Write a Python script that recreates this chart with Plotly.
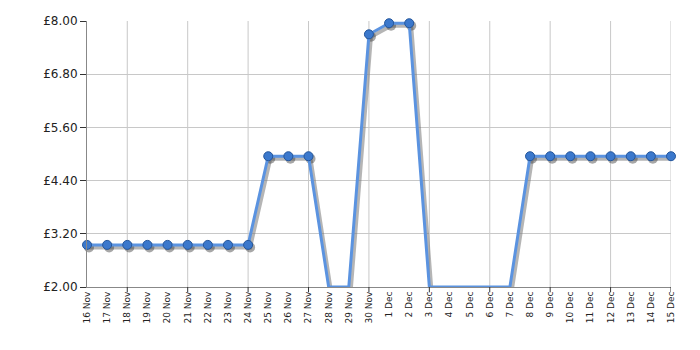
import plotly.graph_objects as go

dates = ["16 Nov","17 Nov","18 Nov","19 Nov","20 Nov","21 Nov","22 Nov","23 Nov","24 Nov",
         "25 Nov","26 Nov","27 Nov","28 Nov","29 Nov","30 Nov","1 Dec","2 Dec","3 Dec",
         "4 Dec","5 Dec","6 Dec","7 Dec","8 Dec","9 Dec","10 Dec","11 Dec","12 Dec",
         "13 Dec","14 Dec","15 Dec"]
prices = [2.95,2.95,2.95,2.95,2.95,2.95,2.95,2.95,2.95,
          4.95,4.95,4.95,None,None,7.70,7.95,7.95,None,
          None,None,None,None,4.95,4.95,4.95,4.95,4.95,
          4.95,4.95,4.95]
y_ticks = [2.00, 3.20, 4.40, 5.60, 6.80, 8.00]
y_min, y_max = 2.00, 8.00

xs = list(range(len(dates)))
ys = [p if p is not None else y_min for p in prices]
mx = [x for x, p in zip(xs, prices) if p is not None]
my = [p for p in prices if p is not None]

# shadow offsets (approx 2px)
dx = 29 / 584 * 2
dy = (y_max - y_min) / 266 * 2.5

fig = go.Figure()
# shadow line
fig.add_trace(go.Scatter(x=[x + dx for x in xs], y=[y - dy for y in ys], mode="lines",
                         line=dict(color="rgba(120,120,120,0.55)", width=4),
                         hoverinfo="skip", cliponaxis=True, showlegend=False))
fig.add_trace(go.Scatter(x=[x + dx for x in mx], y=[y - dy for y in my], mode="markers",
                         marker=dict(size=10, color="rgba(60,60,60,0.45)", line=dict(width=0)),
                         hoverinfo="skip", cliponaxis=False, showlegend=False))
# main line
fig.add_trace(go.Scatter(x=xs, y=ys, mode="lines",
                         line=dict(color="#5b93e0", width=3),
                         cliponaxis=True, showlegend=False))
fig.add_trace(go.Scatter(x=mx, y=my, mode="markers",
                         marker=dict(size=9, color="#3b78cc", line=dict(color="#24569c", width=1)),
                         cliponaxis=False, showlegend=False))

grid_x = [i for i in xs if (i - 2) % 3 == 0]
for gx in grid_x:
    fig.add_shape(type="line", xref="x", yref="paper", x0=gx, x1=gx, y0=0, y1=1,
                  line=dict(color="#c8c8c8", width=1), layer="below")
    fig.add_shape(type="line", xref="x", yref="paper", x0=gx, x1=gx, y0=0, y1=-0.02,
                  line=dict(color="#333333", width=1))

fig.update_layout(
    width=700, height=350,
    margin=dict(l=87, r=29, t=21, b=63),
    paper_bgcolor="white", plot_bgcolor="white",
    font=dict(family="Verdana, DejaVu Sans, sans-serif", color="#222222"),
)
fig.update_xaxes(range=[0, 29], tickmode="array", tickvals=xs, ticktext=dates,
                 tickangle=-90, tickfont=dict(size=9, family="DejaVu Sans"),
                 showgrid=False, zeroline=False, showline=True, linecolor="#888888", linewidth=1,
                 ticks="", ticklen=0)
fig.update_yaxes(range=[y_min, y_max], tickmode="array", tickvals=y_ticks,
                 ticktext=[f"£{v:.2f}" for v in y_ticks],
                 tickfont=dict(size=12, family="DejaVu Sans"),
                 showgrid=True, gridcolor="#c8c8c8", gridwidth=1, zeroline=False,
                 showline=True, linecolor="#888888", linewidth=1,
                 ticks="outside", ticklen=6, tickcolor="#333333")

fig.write_html("out.html")
